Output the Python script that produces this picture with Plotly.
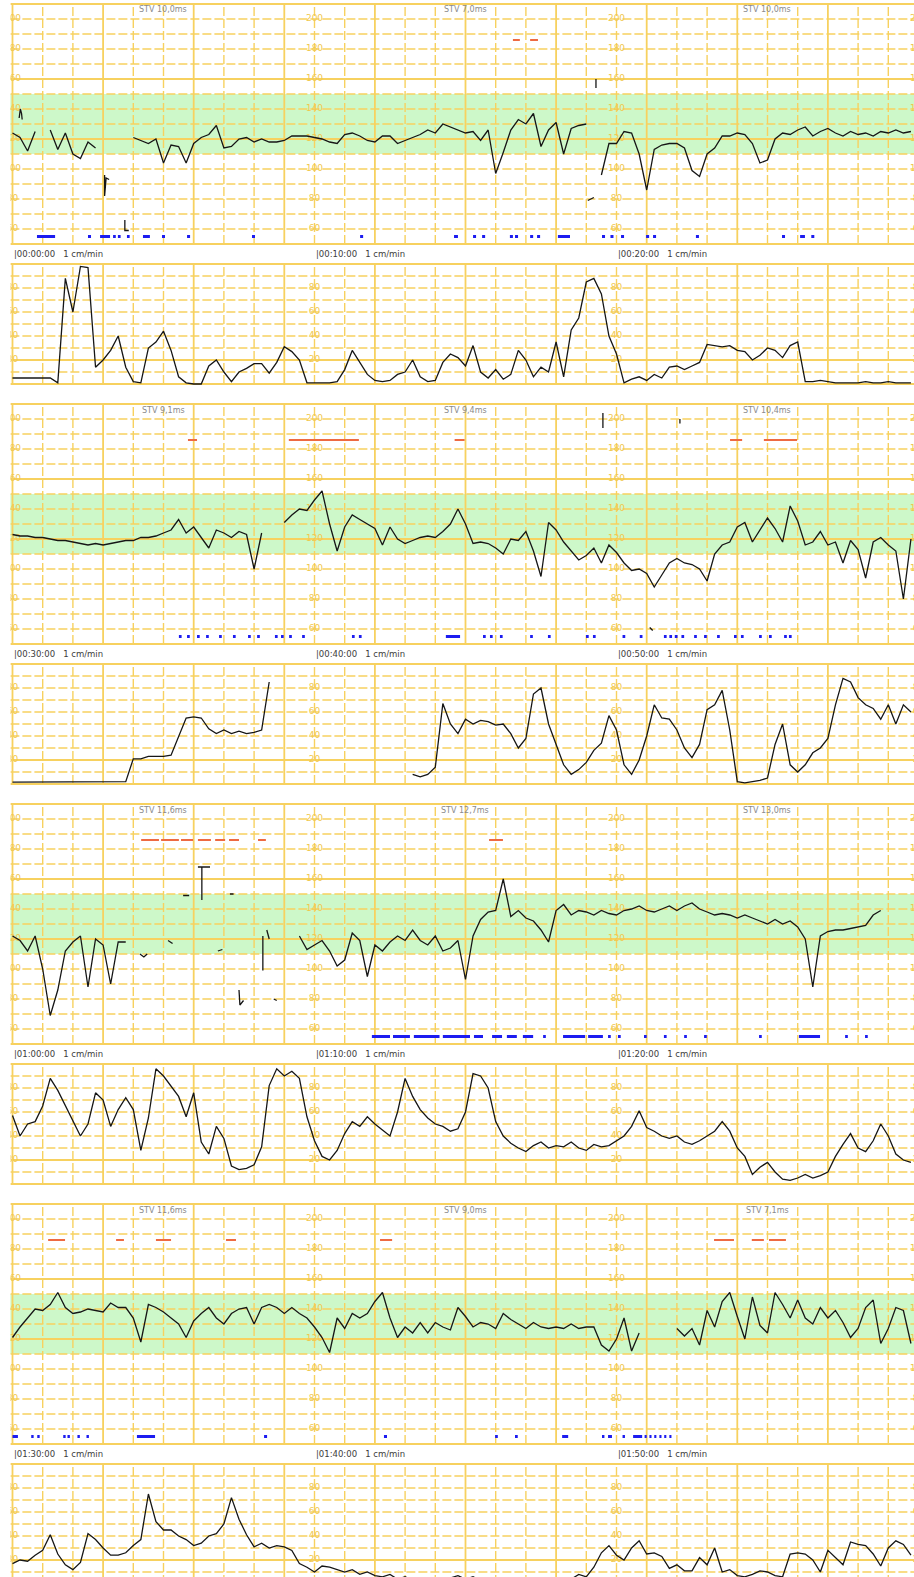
import plotly.graph_objects as go

# ---------------------------------------------------------------------------
# CTG record, four 30-minute strips. FHR in bpm, UC in relative units,
# one reading every 15 s (None = signal loss).
# ---------------------------------------------------------------------------
SAMPLE_MIN = 0.25

fhr_1 = [124, 121, 112, 125, None, 126, 113, 124, 110, 107, 118, 114, None, None, None, None,
         121, 119, 117, 120, 104, 116, 115, 104, 117, 121, 123, 129, 114, 115, 120, 121,
         118, 120, 118, 118, 119, 122, 122, 122, 121, 120, 118, 117, 123, 124, 122, 119,
         118, 122, 122, 117, 119, 121, 123, 126, 124, 130, 128, 126, 124, 125, 119, 126,
         97, 111, 126, 133, 130, 137, 115, 126, 131, 110, 127, 129, 130, None, 96, 117,
         117, 125, 124, 110, 86, 113, 116, 117, 117, 114, 99, 95, 110, 114, 122, 122,
         124, 123, 117, 104, 106, 120, 124, 123, 126, 128, 122, 125, 127, 124, 122, 125,
         123, 124, 122, 125, 124, 126, 124, 125]
uc_1 = [5, 5, 5, 5, 5, 5, 1, 88, 60, 98, 97, 14, 20, 28, 40, 14, 2, 1, 30, 35,
        44, 28, 6, 1, 0, 0, 15, 20, 10, 2, 10, 13, 17, 17, 9, 18, 31, 27, 20, 1,
        1, 1, 1, 2, 12, 28, 18, 8, 3, 2, 3, 8, 10, 20, 6, 2, 3, 18, 25, 22,
        15, 32, 10, 5, 12, 4, 8, 28, 20, 6, 14, 10, 35, 6, 45, 55, 85, 88, 75, 40,
        25, 1, 4, 6, 3, 8, 5, 14, 15, 12, 15, 18, 33, 32, 31, 32, 28, 27, 20, 24,
        30, 28, 22, 32, 35, 2, 2, 3, 2, 1, 1, 1, 1, 2, 1, 1, 2, 1, 1, 1]

fhr_2 = [123, 122, 122, 121, 121, 120, 119, 119, 118, 117, 116, 117, 116, 117, 118, 119,
         119, 121, 121, 122, 124, 126, 133, 124, 128, 121, 114, 126, 124, 121, 125, 123,
         100, 124, None, None, 131, 136, 140, 139, 146, 152, 130, 112, 128, 136, 133, 130,
         127, 116, 128, 120, 117, 119, 121, 122, 121, 125, 130, 140, 130, 117, 118, 117,
         114, 110, 120, 119, 125, 112, 95, 131, 126, 118, 112, 106, 109, 114, 104, 116,
         111, 104, 99, 100, 97, 88, 96, 104, 107, 104, 103, 100, 92, 110, 116, 118,
         128, 131, 118, 126, 134, 127, 118, 142, 132, 116, 118, 125, 116, 118, 104, 119,
         113, 94, 118, 121, 116, 112, 80, 120]
uc_2 = [1.5, 1.5, 1.5, 1.5, 1.5, 1.5, 1.5, 1.5, 1.5, 2, 2, 2, 2, 2, 2, 2,
        21, 21, 23, 23, 23, 24, 40, 55, 56, 55, 46, 42, 45, 42, 44, 42, 43, 45, 85,
        None, None, None, None, None, None, None, None, None, None, None, None, None,
        None, None, None, None, None,
        8, 6, 8, 14, 67, 50, 42, 54, 50, 53, 52, 49, 50, 42, 30, 38, 75, 80, 50, 33,
        16, 8, 12, 18, 28, 34, 57, 45, 16, 8, 20, 40, 66, 55, 54, 45, 30, 22, 33, 62,
        66, 78, 45, 2, 1, 2, 3, 5, 33, 50, 16, 10, 16, 26, 30, 38, 66, 88, 85, 72,
        66, 63, 54, 66, 50, 66, 60]

fhr_3 = [122, 119, 112, 122, 100, 69, 86, 112, 118, 122, 88, 120, 116, 90, 118, 118,
         None, None, None, None, None, None, None, None, None, None, None, None, None,
         None, None, None, None, None, None, None, None, None,
         122, 113, 116, 119, 112, 102, 106, 124, 119, 95, 116, 112, 118, 122, 119, 126,
         119, 116, 122, 112, 114, 119, 93, 122, 133, 138, 139, 160, 135, 139, 134, 132,
         126, 118, 139, 143, 136, 139, 138, 136, 139, 137, 136, 139, 140, 142, 139, 138,
         140, 142, 139, 142, 144, 140, 138, 136, 137, 136, 134, 136, 134, 132, 130, 133,
         130, 132, 128, 120, 88, 122, 125, 126, 126, 127, 128, 129, 136, 139, None, None,
         None, None]
uc_3 = [57, 40, 50, 52, 65, 88, 78, 65, 52, 40, 50, 76, 70, 48, 62, 72, 62, 28, 55, 96,
        90, 81, 73, 56, 76, 35, 25, 48, 38, 15, 12, 13, 16, 31, 82, 96, 90, 94, 88, 56,
        36, 23, 20, 28, 42, 52, 48, 56, 50, 45, 40, 60, 88, 73, 62, 55, 50, 48, 44, 46,
        60, 92, 90, 80, 52, 40, 34, 30, 27, 32, 35, 30, 32, 31, 35, 30, 28, 33, 31, 32,
        36, 40, 48, 61, 47, 44, 40, 38, 40, 35, 33, 36, 40, 44, 52, 44, 30, 23, 8, 14,
        18, 10, 4, 3, 5, 8, 5, 7, 10, 23, 33, 42, 30, 27, 36, 50, 40, 25, 20, 18]

fhr_4 = [121, 128, 134, 140, 139, 143, 151, 141, 137, 138, 140, 139, 138, 144, 141, 141,
         134, 118, 143, 141, 138, 134, 130, 121, 132, 137, 141, 134, 130, 137, 140, 141,
         130, 141, 143, 141, 137, 141, 137, 134, 128, 121, 111, 134, 127, 137, 134, 137,
         145, 151, 134, 121, 128, 124, 131, 124, 131, 128, 126, 141, 135, 128, 131, 130,
         127, 137, 133, 130, 127, 131, 128, 127, 128, 127, 130, 127, 128, 128,
         116, 112, 120, 134, 112, 124, None, None, None, None, 127, 122, 127, 116, 139, 128,
         145, 151, 135, 120, 148, 129, 124, 151, 143, 134, 146, 134, 130, 141, 134, 139,
         131, 121, 127, 141, 146, 117, 127, 141, 139, 117]
uc_4 = [17, 20, 19, 24, 28, 41, 25, 16, 12, 18, 42, 37, 30, 24, 24, 26, 32, 37, 75, 52,
        45, 45, 40, 37, 32, 34, 40, 42, 50, 72, 54, 41, 31, 34, 30, 32, 31, 28, 17, 14,
        10, 15, 14, 12, 10, 12, 8, 10, 7, 6, 8, 4, 6, 3, 5, 3, 4, 2, 5, 7,
        4, 6, 3, 2, 3, 4, 3, 2, 5, 3, 2, 4, 3, 5, 4, 8, 6, 14,
        26, 32, 24, 20, 30, 36, 25, 26, 23, 13, 16, 11, 11, 22, 16, 30, 10, 12, 7, 6,
        8, 11, 10, 7, 6, 25, 26, 25, 20, 10, 28, 22, 16, 35, 33, 32, 25, 15, 30, 36,
        33, 24]

# short FHR pieces recorded between signal losses: (minute, bpm), None splits pieces
frag_1 = [(0.22, 134), (0.26, 140), (0.30, 137), (0.32, 133), None,
          (3.05, 96), (3.05, 82), (3.1, 94), (3.2, 93), None,
          (3.72, 66), (3.72, 59), (3.85, 59), None,
          (19.32, 160), (19.32, 154), None, (19.05, 79), (19.25, 81)]
frag_2 = [(19.55, 204), (19.55, 194), None, (22.1, 200), (22.1, 197), None,
          (21.1, 61), (21.2, 59)]
frag_3 = [(4.22, 110), (4.35, 108), (4.46, 110), None, (5.15, 119), (5.3, 117), None,
          (5.65, 149), (5.85, 149), None, (6.14, 168), (6.54, 168), None,
          (6.27, 168), (6.27, 146), None, (6.8, 112), (6.95, 113), None,
          (7.2, 150), (7.32, 150), None, (7.5, 86), (7.53, 76), (7.65, 79), None,
          (8.29, 122), (8.29, 99), None, (8.42, 126), (8.5, 120), None,
          (8.65, 80), (8.75, 79)]
frag_4 = []

# fetal movement marks (start, end) in minutes
blue_1 = [(0.81, 1.41), (2.5, 2.6), (2.9, 3.23), (3.33, 3.42), (3.49, 3.58), (3.79, 3.88),
          (4.32, 4.55), (4.95, 5.05), (5.78, 5.88), (7.93, 8.03), (11.51, 11.61),
          (14.62, 14.75), (15.25, 15.35), (15.55, 15.65), (16.47, 16.57), (16.64, 16.74),
          (17.14, 17.24), (17.37, 17.47), (18.06, 18.46), (19.52, 19.62), (19.8, 19.9),
          (20.15, 20.25), (20.98, 21.08), (21.21, 21.31), (22.63, 22.73), (25.48, 25.58),
          (26.08, 26.24), (26.45, 26.55)]
blue_2 = [(5.51, 5.6), (5.78, 5.87), (6.11, 6.2), (6.41, 6.5), (6.84, 6.93), (7.3, 7.39),
          (7.8, 7.89), (8.1, 8.19), (8.69, 8.78), (8.89, 8.98), (9.16, 9.25), (9.59, 9.68),
          (11.24, 11.33), (11.47, 11.56), (14.35, 14.82), (15.58, 15.67), (15.81, 15.9),
          (16.14, 16.23), (17.14, 17.23), (17.73, 17.82), (18.99, 19.08), (19.22, 19.31),
          (20.2, 20.29), (20.77, 20.86), (21.57, 21.66), (21.75, 21.84), (21.93, 22.02),
          (22.15, 22.24), (22.57, 22.66), (22.9, 22.99), (23.33, 23.42), (23.89, 23.98),
          (24.12, 24.21), (24.72, 24.81), (25.05, 25.14), (25.55, 25.64), (25.71, 25.8)]
blue_3 = [(11.9, 12.5), (12.6, 13.16), (13.29, 14.14), (14.25, 15.15), (15.28, 15.58),
          (15.88, 16.21), (16.37, 16.7), (16.9, 17.24), (17.57, 17.66), (18.23, 18.96),
          (19.06, 19.55), (19.72, 19.81), (20.05, 20.14), (20.91, 21.0), (21.57, 21.66),
          (22.24, 22.33), (22.9, 22.99), (24.72, 24.81), (26.04, 26.74), (27.57, 27.66),
          (28.23, 28.32)]
blue_4 = [(0.0, 0.18), (0.62, 0.7), (0.82, 0.9), (1.68, 1.76), (1.82, 1.9), (2.15, 2.23),
          (2.45, 2.53), (4.12, 4.72), (8.33, 8.43), (12.3, 12.4), (15.98, 16.07),
          (16.64, 16.73), (18.2, 18.4), (19.52, 19.6), (19.72, 19.85), (20.2, 20.28),
          (20.55, 20.85), (20.93, 21.0), (21.09, 21.16), (21.25, 21.32), (21.42, 21.49),
          (21.58, 21.65), (21.75, 21.82)]

# tachycardia alarm marks (start, end) in minutes
red_1 = [(16.57, 16.8), (17.14, 17.4)]
red_2 = [(5.81, 6.11), (9.15, 11.47), (14.64, 14.97), (23.76, 24.16), (24.88, 25.98)]
red_3 = [(4.26, 4.85), (4.92, 5.51), (5.58, 5.98), (6.14, 6.57), (6.71, 7.04), (7.17, 7.5),
         (8.13, 8.39), (15.78, 16.24)]
red_4 = [(1.18, 1.74), (3.43, 3.69), (4.75, 5.25), (7.07, 7.4), (12.17, 12.57),
         (23.23, 23.89), (24.48, 24.88), (25.05, 25.61)]

stv_1 = ["STV 10,0ms", "STV 7,0ms", "STV 10,0ms"]
stv_2 = ["STV 9,1ms", "STV 9,4ms", "STV 10,4ms"]
stv_3 = ["STV 11,6ms", "STV 12,7ms", "STV 13,0ms"]
stv_4 = ["STV 11,6ms", "STV 9,0ms", "STV 7,1ms"]

times_1 = ["00:00:00", "00:10:00", "00:20:00"]
times_2 = ["00:30:00", "00:40:00", "00:50:00"]
times_3 = ["01:00:00", "01:10:00", "01:20:00"]
times_4 = ["01:30:00", "01:40:00", "01:50:00"]

fhr_ticks = [60, 80, 100, 120, 140, 160, 180, 200]
uc_ticks = [20, 40, 60, 80]
label_minutes = [0, 10, 20, 30]

strips = [
    dict(fhr=fhr_1, uc=uc_1, frag=frag_1, blue=blue_1, red=red_1, stv=stv_1, times=times_1),
    dict(fhr=fhr_2, uc=uc_2, frag=frag_2, blue=blue_2, red=red_2, stv=stv_2, times=times_2),
    dict(fhr=fhr_3, uc=uc_3, frag=frag_3, blue=blue_3, red=red_3, stv=stv_3, times=times_3),
    dict(fhr=fhr_4, uc=uc_4, frag=frag_4, blue=blue_4, red=red_4, stv=stv_4, times=times_4),
]

# ---------------------------------------------------------------------------
# paper geometry
# ---------------------------------------------------------------------------
W, H = 914, 1577
PX_PER_MIN = 30.2
X0_PX = 12.5
X_MIN = -0.07
X_MAX = (W - X0_PX) / PX_PER_MIN
X_DOM0 = (X0_PX + X_MIN * PX_PER_MIN) / W

FHR_LO, FHR_HI, FHR_PX = 50, 210, 1.5
UC_LO, UC_HI, UC_PX = 0, 100, 1.2
PITCH = 400
FHR_TOP = 4
UC_TOP = 264
TIME_ROW = 254
PAD = 2
MOVE_LEVEL = 55
ALARM_LEVEL = 186
STV_LEVEL = 206

GRID = "#F7D15F"
LABEL = "#F1C84E"
GREEN = "#CDF8C9"
TRACE = "#161616"
FONT = "DejaVu Sans"

fig = go.Figure()
layout = dict(width=W, height=H, margin=dict(l=0, r=0, t=0, b=0),
              paper_bgcolor="white", plot_bgcolor="white", showlegend=False)
shapes, annotations = [], []


def grid_xy(lines_v, lines_h, lo, hi):
    xs, ys = [], []
    for m in lines_v:
        xs += [m, m, None]
        ys += [lo, hi, None]
    for v in lines_h:
        xs += [X_MIN, X_MAX + 1, None]
        ys += [v, v, None]
    return xs, ys


minutes_solid = [m for m in range(0, 31) if m % 3 == 0]
minutes_dash = [m for m in range(0, 31) if m % 3 != 0]


def add_panel(n, lo, hi, h_solid, h_dash, ticks):
    xa, ya = f"x{n}" if n > 1 else "x", f"y{n}" if n > 1 else "y"
    xs, ys = grid_xy(minutes_dash, h_dash, lo, hi)
    fig.add_trace(go.Scatter(x=xs, y=ys, mode="lines", xaxis=xa, yaxis=ya, hoverinfo="skip",
                             line=dict(color=GRID, width=1.4, dash="9px,3px")))
    xs, ys = grid_xy(minutes_solid, h_solid, lo, hi)
    fig.add_trace(go.Scatter(x=xs, y=ys, mode="lines", xaxis=xa, yaxis=ya, hoverinfo="skip",
                             line=dict(color=GRID, width=1.8)))
    tx, ty, tt = [], [], []
    for m in label_minutes:
        for v in ticks:
            tx.append(m)
            ty.append(v)
            tt.append(str(v))
    fig.add_trace(go.Scatter(x=tx, y=ty, text=tt, mode="text", xaxis=xa, yaxis=ya,
                             cliponaxis=True, hoverinfo="skip",
                             textfont=dict(family=FONT, size=9, color=LABEL)))
    return xa, ya


for k, s in enumerate(strips):
    nf, nu = 2 * k + 1, 2 * k + 2
    off = PITCH * k

    # --- FHR panel
    top = FHR_TOP + off - PAD
    bot = FHR_TOP + off + (FHR_HI - FHR_LO) * FHR_PX + PAD
    f_lo, f_hi = FHR_LO - PAD / FHR_PX, FHR_HI + PAD / FHR_PX
    layout[f"xaxis{nf}"] = dict(domain=[X_DOM0, 1], range=[X_MIN, X_MAX], anchor=f"y{nf}",
                                visible=False, fixedrange=True)
    layout[f"yaxis{nf}"] = dict(domain=[1 - bot / H, 1 - top / H], range=[f_lo, f_hi],
                                anchor=f"x{nf}", visible=False, fixedrange=True)
    shapes.append(dict(type="rect", xref=f"x{nf} domain", yref=f"y{nf}", x0=0, x1=1,
                       y0=110, y1=150, fillcolor=GREEN, line=dict(width=0), layer="below"))
    h_solid = [FHR_LO, 120, 160, FHR_HI]
    h_dash = [v for v in range(60, 201, 10) if v not in h_solid]
    xa, ya = add_panel(nf, FHR_LO, FHR_HI, h_solid, h_dash, fhr_ticks)

    t = [i * SAMPLE_MIN for i in range(len(s["fhr"]))]
    fig.add_trace(go.Scatter(x=t, y=s["fhr"], mode="lines", xaxis=xa, yaxis=ya,
                             line=dict(color=TRACE, width=1.3),
                             connectgaps=False, hoverinfo="skip"))
    if s["frag"]:
        fx = [p[0] if p else None for p in s["frag"]]
        fy = [p[1] if p else None for p in s["frag"]]
        fig.add_trace(go.Scatter(x=fx, y=fy, mode="lines", xaxis=xa, yaxis=ya,
                                 line=dict(color=TRACE, width=1.3), hoverinfo="skip"))
    bx, by = [], []
    for a, b in s["blue"]:
        bx += [a, b, None]
        by += [MOVE_LEVEL, MOVE_LEVEL, None]
    fig.add_trace(go.Scatter(x=bx, y=by, mode="lines", xaxis=xa, yaxis=ya,
                             line=dict(color="#1c1cf0", width=3), hoverinfo="skip"))
    rx, ry = [], []
    for a, b in s["red"]:
        rx += [a, b, None]
        ry += [ALARM_LEVEL, ALARM_LEVEL, None]
    fig.add_trace(go.Scatter(x=rx, y=ry, mode="lines", xaxis=xa, yaxis=ya,
                             line=dict(color="#EE6A42", width=2), hoverinfo="skip"))
    for j, label in enumerate(s["stv"]):
        annotations.append(dict(x=5 + 10 * j, y=STV_LEVEL, xref=f"x{nf}", yref=f"y{nf}",
                                text=label, showarrow=False,
                                font=dict(family=FONT, size=8, color="#8a8a8a")))

    # --- UC panel
    top = UC_TOP + off - PAD
    bot = UC_TOP + off + (UC_HI - UC_LO) * UC_PX + PAD
    u_lo, u_hi = UC_LO - PAD / UC_PX, UC_HI + PAD / UC_PX
    if bot > H:
        u_lo = UC_HI - (H - (UC_TOP + off)) / UC_PX
        bot = H
    layout[f"xaxis{nu}"] = dict(domain=[X_DOM0, 1], range=[X_MIN, X_MAX], anchor=f"y{nu}",
                                visible=False, fixedrange=True)
    layout[f"yaxis{nu}"] = dict(domain=[1 - bot / H, 1 - top / H], range=[u_lo, u_hi],
                                anchor=f"x{nu}", visible=False, fixedrange=True)
    u_solid = [UC_LO, 20, UC_HI]
    u_dash = [v for v in range(10, 100, 10) if v not in u_solid]
    xa, ya = add_panel(nu, UC_LO, UC_HI, u_solid, u_dash, uc_ticks)
    t = [i * SAMPLE_MIN for i in range(len(s["uc"]))]
    fig.add_trace(go.Scatter(x=t, y=s["uc"], mode="lines", xaxis=xa, yaxis=ya,
                             line=dict(color=TRACE, width=1.3),
                             connectgaps=False, hoverinfo="skip"))

    # --- time stamps between the two panels
    for j, stamp in enumerate(s["times"]):
        annotations.append(dict(x=10 * j, y=1 - (TIME_ROW + off) / H, xref=f"x{nu}",
                                yref="paper", xanchor="left", yanchor="middle",
                                text=f"|{stamp}\u00a0\u00a0 1 cm/min", showarrow=False,
                                font=dict(family=FONT, size=8.5, color="#3c3c3c")))

layout["xaxis"] = layout.pop("xaxis1")
layout["yaxis"] = layout.pop("yaxis1")
layout["xaxis"]["anchor"] = "y"
layout["yaxis"]["anchor"] = "x"
layout["shapes"] = [dict(sh, xref=sh["xref"].replace("x1 ", "x "),
                         yref="y" if sh["yref"] == "y1" else sh["yref"]) for sh in shapes]
layout["annotations"] = [dict(a, xref="x" if a["xref"] == "x1" else a["xref"],
                              yref="y" if a["yref"] == "y1" else a["yref"]) for a in annotations]
fig.update_layout(**layout)
fig.write_html("out.html")
